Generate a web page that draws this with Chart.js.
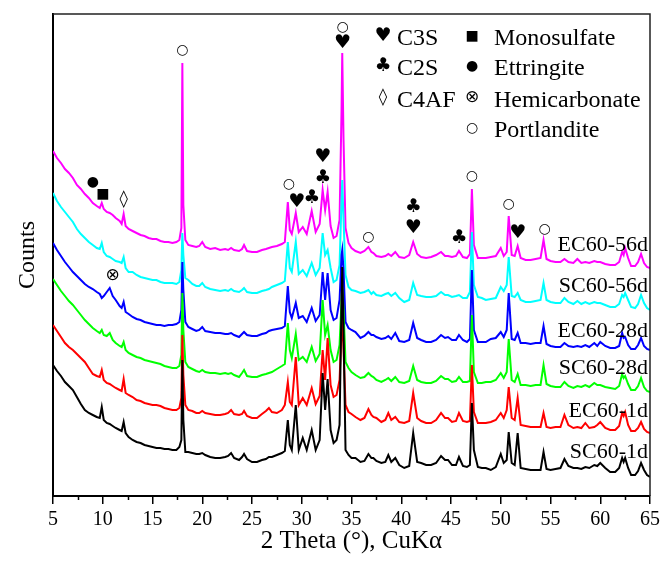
<!DOCTYPE html>
<html>
<head>
<meta charset="utf-8">
<title>XRD patterns</title>
<script src="https://cdn.jsdelivr.net/npm/chart.js@4.4.1/dist/chart.umd.min.js"></script>
<style>
  html, body { margin: 0; padding: 0; background: #fff; }
  #wrap { width: 664px; height: 562px; }
</style>
</head>
<body>
<div id="wrap"><canvas id="xrd" width="664" height="562"></canvas></div>
<script>
// 2-theta positions shared by all six scans
const twoTheta = [
  5.0, 5.4, 5.8, 6.2, 6.6, 7.0, 7.4, 7.8, 8.2, 8.6,
  9.0, 9.4, 9.7, 9.9, 10.1, 10.4, 10.7, 11.0, 11.3, 11.7,
  11.9, 12.1, 12.3, 12.6, 13.0, 13.4, 13.8, 14.2, 14.6, 15.0,
  15.4, 15.8, 16.2, 16.6, 17.0, 17.4, 17.7, 17.9, 18.0, 18.1,
  18.3, 18.6, 19.0, 19.4, 19.7, 20.0, 20.3, 20.8, 21.3, 21.8,
  22.3, 22.6, 22.9, 23.2, 23.7, 24.0, 24.2, 24.5, 25.0, 25.5,
  26.0, 26.4, 26.7, 27.0, 27.5, 28.0, 28.3, 28.6, 28.8, 29.0,
  29.4, 29.7, 30.1, 30.5, 31.0, 31.4, 31.8, 32.1, 32.35, 32.6,
  32.9, 33.2, 33.5, 33.8, 34.0, 34.07, 34.2, 34.4, 34.7, 35.0,
  35.4, 35.9, 36.3, 36.7, 37.0, 37.2, 37.5, 38.0, 38.4, 38.7,
  39.0, 39.4, 39.8, 40.3, 40.8, 41.2, 41.6, 42.0, 42.5, 43.0,
  43.5, 44.0, 44.4, 44.7, 45.1, 45.5, 45.8, 46.2, 46.6, 46.9,
  47.1, 47.3, 47.7, 48.1, 48.5, 49.0, 49.5, 50.0, 50.3, 50.6,
  50.8, 51.1, 51.4, 51.7, 52.0, 52.5, 53.0, 53.5, 54.0, 54.3,
  54.6, 55.0, 55.5, 56.0, 56.4, 56.8, 57.3, 57.7, 58.1, 58.5,
  58.9, 59.4, 59.7, 60.0, 60.5, 61.0, 61.5, 61.9, 62.2, 62.35,
  62.5, 62.8, 63.1, 63.5, 63.8, 64.1, 64.4, 64.7, 65.0
];

// stacked counts (each scan already offset upward)
const EC60_56d = [
  349, 342, 337, 331, 327, 322, 315, 311, 306, 302,
  297, 294, 292, 297, 291, 288, 287, 285, 282, 279,
  276, 286, 274, 271, 269, 267, 265, 264, 262, 261,
  261, 259, 258, 258, 257, 258, 260, 272, 437, 295,
  260, 255, 254, 253, 254, 258, 253, 251, 252, 250,
  251, 250, 252, 250, 249, 251, 255, 249, 248, 248,
  250, 251, 252, 253, 254, 256, 258, 298, 270, 266,
  287, 268, 273, 266, 289, 268, 276, 310, 290, 308,
  274, 262, 264, 280, 390, 447, 360, 272, 257, 252,
  249, 247, 249, 253, 248, 247, 244, 243, 244, 246,
  244, 248, 243, 242, 245, 258, 246, 243, 242, 243,
  245, 248, 244, 244, 243, 244, 249, 243, 242, 246,
  311, 255, 242, 242, 242, 243, 244, 252, 244, 248,
  284, 245, 244, 254, 242, 240, 240, 241, 242, 260,
  241, 239, 238, 238, 241, 238, 237, 241, 237, 238,
  237, 239, 238, 238, 236, 235, 235, 238, 248, 245,
  252, 242, 234, 234, 238, 246, 237, 233, 232
];
const SC60_56d = [
  307, 299, 293, 288, 283, 278, 271, 266, 262, 258,
  255, 252, 251, 257, 248, 244, 243, 241, 239, 238,
  237, 243, 232, 228, 228, 225, 223, 222, 221, 220,
  220, 218, 217, 217, 217, 216, 218, 230, 267, 245,
  222, 220, 216, 214, 214, 217, 213, 211, 210, 209,
  210, 209, 211, 209, 208, 210, 212, 208, 207, 207,
  209, 210, 211, 213, 215, 217, 219, 258, 232, 228,
  258, 226, 230, 224, 237, 225, 232, 267, 245, 250,
  232, 218, 220, 235, 300, 320, 280, 225, 213, 210,
  209, 207, 208, 210, 206, 208, 205, 204, 206, 207,
  204, 207, 202, 198, 200, 217, 205, 204, 203, 203,
  204, 208, 205, 205, 203, 204, 205, 202, 202, 208,
  268, 215, 203, 202, 200, 201, 202, 213, 209, 215,
  243, 204, 203, 207, 200, 198, 198, 199, 200, 217,
  200, 198, 197, 197, 202, 198, 196, 199, 196, 198,
  196, 198, 197, 197, 195, 193, 193, 196, 205, 203,
  207, 200, 193, 192, 196, 205, 197, 192, 190
];
const EC60_28d = [
  257, 250, 244, 238, 233, 228, 224, 220, 216, 213,
  211, 208, 206, 202, 204, 208, 212, 204, 200, 194,
  192, 198, 188, 186, 183, 181, 180, 178, 177, 176,
  175, 175, 174, 175, 175, 176, 178, 190, 238, 210,
  178, 173, 171, 169, 170, 173, 169, 168, 167, 167,
  166, 166, 167, 165, 163, 166, 168, 165, 164, 164,
  166, 167, 169, 170, 171, 172, 174, 214, 188, 182,
  197, 182, 184, 178, 192, 179, 185, 228, 200, 227,
  190, 180, 182, 200, 245, 250, 230, 178, 172, 170,
  168, 162, 164, 168, 165, 165, 163, 161, 162, 164,
  161, 167, 159, 158, 160, 177, 162, 160, 158, 158,
  160, 165, 162, 163, 160, 160, 165, 160, 158, 161,
  230, 170, 158, 158, 158, 161, 162, 168, 163, 170,
  207, 161, 160, 167, 157, 157, 156, 157, 157, 174,
  156, 154, 153, 153, 157, 154, 153, 154, 153, 155,
  153, 157, 154, 158, 154, 152, 152, 154, 167, 162,
  163, 155, 151, 151, 155, 162, 154, 151, 150
];
const SC60_28d = [
  221, 215, 209, 204, 199, 195, 190, 185, 180, 176,
  172, 169, 167, 170, 165, 164, 167, 160, 157, 154,
  153, 158, 150, 147, 145, 143, 142, 140, 139, 138,
  137, 136, 134, 133, 132, 132, 134, 145, 207, 170,
  138, 133, 131, 129, 128, 130, 128, 127, 127, 126,
  127, 126, 127, 125, 123, 127, 130, 124, 123, 123,
  125, 126, 127, 128, 131, 134, 136, 177, 150, 142,
  166, 140, 143, 138, 153, 139, 146, 200, 165, 175,
  150, 138, 140, 155, 200, 213, 190, 138, 132, 128,
  125, 122, 123, 127, 124, 123, 120, 118, 120, 122,
  119, 123, 118, 117, 119, 134, 120, 118, 117, 117,
  119, 124, 121, 121, 118, 119, 123, 118, 118, 119,
  185, 128, 117, 117, 118, 118, 120, 127, 122, 128,
  161, 120, 118, 126, 115, 115, 114, 115, 115, 135,
  116, 114, 113, 113, 118, 114, 112, 114, 113, 115,
  113, 117, 115, 115, 113, 112, 111, 114, 126, 122,
  124, 116, 110, 110, 114, 122, 113, 109, 108
];
const EC60_1d = [
  175, 169, 163, 157, 153, 150, 146, 142, 138, 132,
  126, 124, 123, 130, 120, 117, 116, 114, 112, 110,
  109, 121, 107, 105, 103, 100, 99, 97, 96, 95,
  95, 94, 92, 91, 90, 90, 92, 102, 165, 125,
  95, 90, 89, 87, 87, 89, 87, 86, 85, 85,
  86, 87, 90, 86, 85, 86, 89, 84, 82, 82,
  86, 89, 92, 88, 87, 90, 95, 118, 98, 95,
  143, 95, 102, 95, 112, 96, 104, 150, 120, 162,
  115, 103, 105, 120, 170, 182, 150, 95, 88, 86,
  83, 80, 82, 91, 85, 83, 82, 78, 80, 87,
  80, 83, 78, 77, 79, 107, 82, 79, 77, 77,
  80, 87, 82, 82, 78, 79, 87, 79, 78, 79,
  135, 88, 77, 77, 77, 78, 80, 87, 82, 90,
  113, 82, 80, 102, 75, 74, 73, 73, 73, 87,
  73, 72, 73, 73, 85, 75, 72, 73, 72, 77,
  72, 73, 75, 78, 72, 70, 70, 74, 87, 84,
  88, 75, 69, 69, 72, 78, 71, 68, 67
];
const SC60_1d = [
  135, 129, 124, 118, 114, 110, 103, 96, 90, 87,
  85, 83, 82, 93, 80, 77, 76, 74, 72, 70,
  69, 78, 67, 63, 60, 58, 57, 55, 54, 53,
  52, 52, 51, 51, 50, 50, 53, 60, 140, 80,
  48, 48, 47, 46, 46, 47, 45, 43, 42, 42,
  43, 44, 47, 42, 40, 43, 46, 41, 38, 38,
  40, 41, 43, 43, 45, 47, 49, 80, 55, 50,
  95, 50, 62, 50, 70, 50, 60, 127, 90, 121,
  70, 57, 60, 75, 200, 233, 170, 50, 45, 42,
  42, 38, 39, 46, 42, 42, 39, 37, 38, 45,
  38, 42, 35, 32, 34, 67, 38, 37, 35, 35,
  37, 44, 40, 40, 35, 35, 43, 34, 33, 35,
  97, 50, 33, 32, 32, 30, 33, 46, 37, 40,
  68, 37, 35, 67, 32, 31, 30, 30, 30, 48,
  31, 30, 31, 32, 41, 34, 32, 32, 31, 33,
  32, 35, 34, 37, 32, 28, 28, 32, 42, 38,
  42, 32, 25, 25, 29, 37, 30, 25, 23
];

// first entry is drawn last (on top)
const scans = [
  { name: 'SC60-1d',  values: SC60_1d,  color: '#000000' },
  { name: 'EC60-1d',  values: EC60_1d,  color: '#ff0000' },
  { name: 'SC60-28d', values: SC60_28d, color: '#00ff00' },
  { name: 'EC60-28d', values: EC60_28d, color: '#0000ff' },
  { name: 'SC60-56d', values: SC60_56d, color: '#00ffff' },
  { name: 'EC60-56d', values: EC60_56d, color: '#ff00ff' }
];

// phase symbols over the peaks: [glyph, 2theta, counts]
const peakMarks = [
  ['●', 9.0, 318], ['■', 10.0, 306], ['◊', 12.1, 300], ['⊗', 11.0, 224],
  ['○', 18.0, 450],
  ['○', 28.7, 316], ['♥', 29.5, 298], ['♣', 31.0, 302],
  ['♥', 32.1, 343], ['♣', 32.1, 322],
  ['○', 34.1, 473], ['♥', 34.1, 457],
  ['○', 36.7, 263], ['♣', 41.2, 293], ['♥', 41.2, 272], ['♣', 45.8, 262],
  ['○', 47.1, 324], ['○', 50.8, 296], ['♥', 51.7, 267], ['○', 54.4, 271]
];

const phaseKey = [
  ['♥', 'C3S', 383, 45], ['♣', 'C2S', 383, 75], ['◊', 'C4AF', 383, 107],
  ['■', 'Monosulfate', 472, 45], ['●', 'Ettringite', 472, 75],
  ['⊗', 'Hemicarbonate', 472, 107], ['○', 'Portlandite', 472, 137]
];
const scanLabelY = [458, 417, 374, 337, 292, 251];

const SERIF = "'Liberation Serif', 'Times New Roman', serif";
const SYM = "'DejaVu Sans', sans-serif";
const symSize = { '♥': 19, '♣': 19, '○': 14, '●': 14, '■': 14, '◊': 17, '⊗': 17 };

const decorations = {
  id: 'decorations',
  afterDraw(chart) {
    const { ctx, chartArea: a, scales: { x, y } } = chart;
    ctx.save();
    // top and right edges of the frame
    ctx.strokeStyle = '#222';
    ctx.lineWidth = 1.5;
    ctx.beginPath();
    ctx.moveTo(a.left, a.top);
    ctx.lineTo(a.right, a.top);
    ctx.lineTo(a.right, a.bottom);
    ctx.stroke();

    // minor ticks between the labelled ones
    ctx.strokeStyle = '#000';
    for (let t = 7.5; t < 65; t += 5) {
      const px = Math.round(x.getPixelForValue(t)) + 0.5;
      ctx.beginPath();
      ctx.moveTo(px, a.bottom);
      ctx.lineTo(px, a.bottom + 4);
      ctx.stroke();
    }

    // symbols above the peaks
    ctx.fillStyle = '#000';
    ctx.textAlign = 'center';
    ctx.textBaseline = 'middle';
    peakMarks.forEach(([g, tt, c]) => {
      ctx.font = symSize[g] + 'px ' + SYM;
      ctx.fillText(g, x.getPixelForValue(tt), y.getPixelForValue(c));
    });

    // scan names at the right end of each trace
    ctx.textAlign = 'right';
    ctx.textBaseline = 'alphabetic';
    ctx.font = '22px ' + SERIF;
    scans.forEach((s, i) => ctx.fillText(s.name, 648, scanLabelY[i]));

    // phase key
    phaseKey.forEach(([g, label, gx, base]) => {
      ctx.textAlign = 'center';
      ctx.textBaseline = 'middle';
      ctx.font = symSize[g] + 'px ' + SYM;
      ctx.fillText(g, gx, base - 9);
      ctx.textAlign = 'left';
      ctx.textBaseline = 'alphabetic';
      ctx.font = '24px ' + SERIF;
      ctx.fillText(label, gx + (g === '♥' || g === '♣' || g === '◊' ? 14 : 22), base);
    });
    ctx.restore();
  }
};

new Chart(document.getElementById('xrd'), {
  type: 'line',
  data: {
    datasets: scans.map(s => ({
      label: s.name,
      data: twoTheta.map((t, i) => ({ x: t, y: s.values[i] })),
      borderColor: s.color,
      borderWidth: 2,
      pointRadius: 0,
      tension: 0,
      fill: false
    }))
  },
  options: {
    responsive: false,
    animation: false,
    devicePixelRatio: 1,
    layout: { padding: { top: 14, right: 11, bottom: 0, left: 0 } },
    plugins: { legend: { display: false }, tooltip: { enabled: false } },
    scales: {
      x: {
        type: 'linear',
        min: 5,
        max: 65,
        ticks: { stepSize: 5, color: '#000', padding: 4, font: { family: SERIF, size: 20 } },
        grid: { drawOnChartArea: false, tickLength: 8, color: '#000', lineWidth: 1.5 },
        border: { display: true, color: '#000', width: 2 },
        title: {
          display: true,
          text: '2 Theta (°), CuKα',
          color: '#000',
          font: { family: SERIF, size: 25 },
          padding: { top: 0, bottom: 6 }
        },
        afterFit: scale => { scale.height = 66; }
      },
      y: {
        min: 4,
        max: 486,
        ticks: { display: false },
        grid: { display: false, drawTicks: false },
        border: { display: true, color: '#000', width: 2 },
        title: {
          display: true,
          text: 'Counts',
          color: '#000',
          font: { family: SERIF, size: 24 },
          padding: { top: 13, bottom: 0 }
        },
        afterFit: scale => { scale.width = 53; }
      }
    }
  },
  plugins: [decorations]
});
</script>
</body>
</html>
